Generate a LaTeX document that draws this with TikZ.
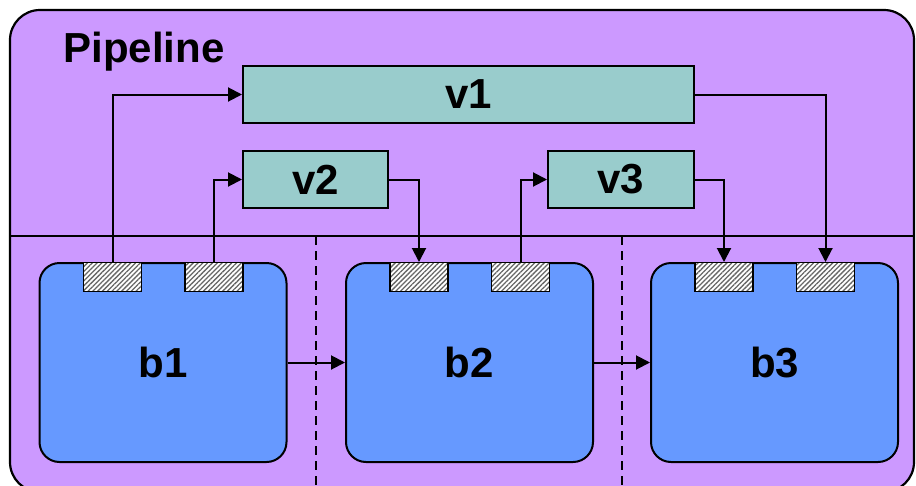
\documentclass[tikz,border=0pt]{standalone}
\usepackage{fontspec}
\setmainfont{Liberation Sans}
\usetikzlibrary{arrows.meta, positioning, patterns.meta}
\definecolor{pipeviolet}{RGB}{204, 153, 255}
\definecolor{stageblue}{RGB}{102, 153, 255}
\definecolor{viewteal}{RGB}{153, 204, 204}

\begin{document}
\begin{tikzpicture}[
    x=1pt, y=-1pt,
    stage/.style={rectangle, draw=black, fill=stageblue, line width=2pt,
                  rounded corners=20pt, minimum width=247pt, minimum height=199pt,
                  font=\fontsize{42}{48}\selectfont\bfseries, inner sep=0pt},
    view/.style={rectangle, draw=black, fill=viewteal, line width=2pt,
                 minimum height=57pt, inner sep=0pt,
                 font=\fontsize{42}{48}\selectfont\bfseries},
    port/.style={rectangle, draw=black, line width=1.4pt,
                 preaction={fill=white},
                 pattern={Lines[angle=45, distance=3.4pt, line width=1.3pt]},
                 pattern color=black!60,
                 minimum width=58pt, minimum height=29pt, inner sep=0pt},
    link/.style={-{Triangle[length=14pt, width=14pt]}, line width=2pt},
    lane/.style={line width=1.6pt, dash pattern=on 9pt off 6pt},
]
\useasboundingbox (0,0) rectangle (916,485);

%% ── Pipeline frame ──────────────────────────────────────────────────────────
\draw[fill=pipeviolet, line width=2.2pt, rounded corners=30pt] (10,10) rectangle (914,492);
\node[anchor=base west, font=\fontsize{42}{48}\selectfont\bfseries] (title) at (60,62) {Pipeline};

\coordinate (sepL) at (10,236);
\coordinate (sepR) at (914,236);
\draw[line width=1.8pt] (sepL) -- (sepR);

\coordinate (lane1T) at (316,236);
\coordinate (lane1B) at (316,490);
\coordinate (lane2T) at (622,236);
\coordinate (lane2B) at (622,490);
\draw[lane] (lane1T) -- (lane1B);
\draw[lane] (lane2T) -- (lane2B);

%% ── Views ───────────────────────────────────────────────────────────────────
\node[view, minimum width=451pt] (v1) at (468.5,94.5)  {v1};
\node[view, minimum width=145pt] (v2) at (315.5,179.5) {v2};
\node[view, minimum width=146pt] (v3) at (621,179.5)   {v3};

%% ── Stages ──────────────────────────────────────────────────────────────────
\node[stage] (b1) at (163,362.5)   {b1};
\node[stage] (b2) at (469.5,362.5) {b2};
\node[stage] (b3) at (774.5,362.5) {b3};

\node[port, anchor=north] (b1p1) at ([xshift=-50.5pt]b1.north) {};
\node[port, anchor=north] (b1p2) at ([xshift=51pt]b1.north)    {};
\node[port, anchor=north] (b2p1) at ([xshift=-50.5pt]b2.north) {};
\node[port, anchor=north] (b2p2) at ([xshift=51pt]b2.north)    {};
\node[port, anchor=north] (b3p1) at ([xshift=-50.5pt]b3.north) {};
\node[port, anchor=north] (b3p2) at ([xshift=51pt]b3.north)    {};

%% ── Connections ─────────────────────────────────────────────────────────────
\draw[link] (b1p1.north) |- (v1.west);
\draw[link] (b1p2.north) |- (v2.west);
\draw[link] (v2.east) -| (b2p1.north);
\draw[link] (b2p2.north) |- (v3.west);
\draw[link] (v3.east) -| (b3p1.north);
\draw[link] (v1.east) -| (b3p2.north);

\draw[link] (b1.east) -- (b2.west);
\draw[link] (b2.east) -- (b3.west);

\end{tikzpicture}
\end{document}
